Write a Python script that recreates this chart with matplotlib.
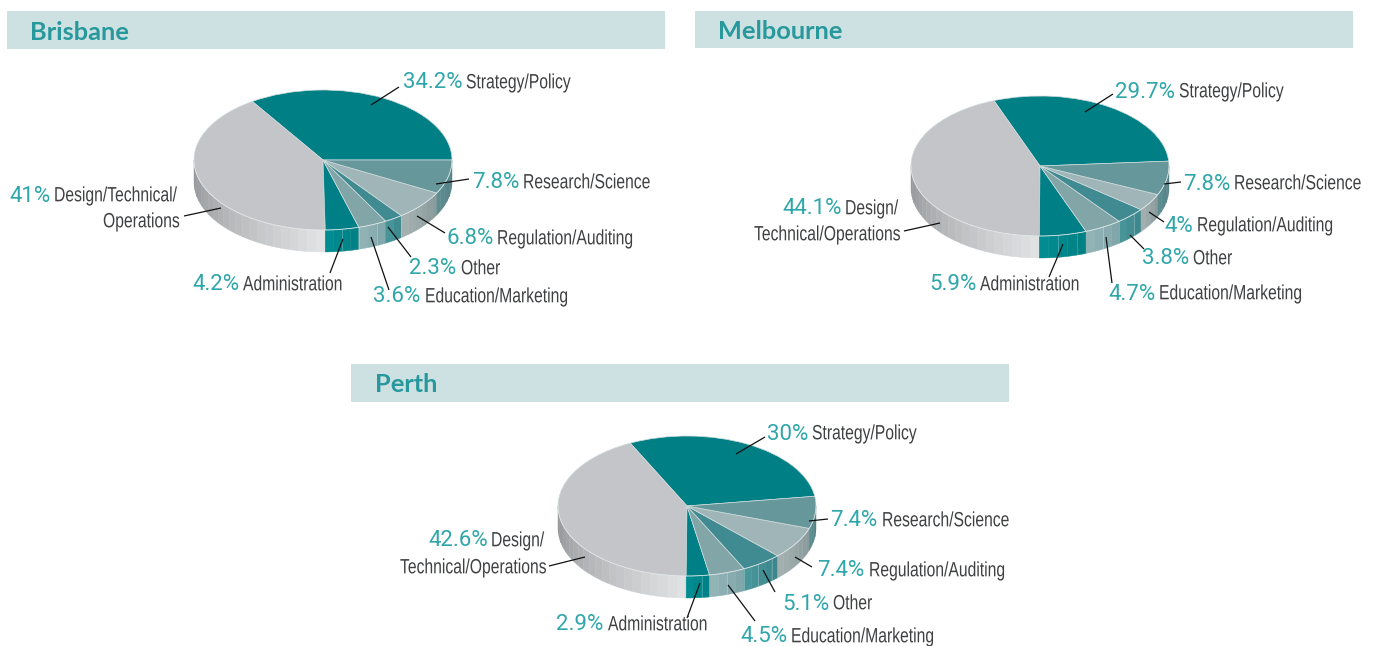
import numpy as np
import matplotlib
matplotlib.use('Agg')
import matplotlib.pyplot as plt
from matplotlib.colors import to_rgb
from matplotlib.patheffects import AbstractPathEffect
from matplotlib.transforms import Affine2D

W, H = 1379, 646

categories = ['Strategy/Policy', 'Design/Technical/Operations', 'Administration',
              'Education/Marketing', 'Other', 'Regulation/Auditing', 'Research/Science']
brisbane_values = [34.2, 41, 4.2, 3.6, 2.3, 6.8, 7.8]
melbourne_values = [29.7, 44.1, 5.9, 4.7, 3.8, 4, 7.8]
perth_values = [30, 42.6, 2.9, 4.5, 5.1, 7.4, 7.4]

top_colors = ['#007f84', '#c3c5c8', '#008086', '#82a5a8', '#408b91', '#a0b5b7', '#66979b']
# wall colours, left and right end of each slice
wall_colors = [('#007f84', '#007f84'), ('#8d8f92', '#e2e3e5'), ('#008e92', '#007f84'),
               ('#93b5b8', '#7fa5a8'), ('#4a979c', '#3a858b'), ('#a6b2b2', '#879999'),
               ('#5f8e92', '#4f7c80')]

TITLE_TEAL = '#27999c'
PCT_TEAL = '#2fa6aa'
GREY = '#3f4042'


class Tall(AbstractPathEffect):
    # the label type in the original is a condensed face, none is installed,
    # so set it small and stretch it upwards from the baseline
    def __init__(self, sy):
        self.sy = sy

    def draw_path(self, renderer, gc, tpath, affine, rgbFace=None):
        renderer.draw_path(gc, tpath, Affine2D().scale(1, self.sy) + affine, rgbFace)


NARROW = [Tall(1 / 0.76)]

fig = plt.figure(figsize=(W / 100, H / 100), dpi=100)
over = fig.add_axes([0, 0, 1, 1], zorder=5)
over.set_xlim(0, W)
over.set_ylim(H, 0)
over.axis('off')
over.patch.set_alpha(0)


def pie3d(values, cx, cy, start, rx=129, ry=70, depth=22):
    ax = fig.add_axes([(cx - rx) / W, 1 - (cy + ry) / H, 2 * rx / W, 2 * ry / H], zorder=2)
    ax.pie(values, colors=top_colors, startangle=start, radius=1, counterclock=True,
           wedgeprops={'linewidth': 0.5, 'edgecolor': '#cfdcdd'})
    ax.set_aspect('auto')
    ax.set_xlim(-1, 1)
    ax.set_ylim(-1, 1)
    d = depth / ry
    edges = start + np.cumsum([0] + list(values)) / sum(values) * 360
    for i in range(len(values)):
        a0, a1 = max(edges[i], 180), min(edges[i + 1], 360)
        if a1 <= a0:
            continue
        n = max(1, int(round((a1 - a0) / 4)))
        c0, c1 = np.array(to_rgb(wall_colors[i][0])), np.array(to_rgb(wall_colors[i][1]))
        steps = np.linspace(a0, a1, n + 1)
        for k in range(n):
            t = np.radians(np.linspace(steps[k], steps[k + 1], 6))
            xs = np.r_[np.cos(t), np.cos(t[::-1])]
            ys = np.r_[np.sin(t), np.sin(t[::-1]) - d]
            c = c0 + (c1 - c0) * (k + 0.5) / n
            ax.fill(xs, ys, color=c, lw=0.3, zorder=0.5, clip_on=False)
            if i in (2, 3, 4) and k % 2 == 1:
                x = np.cos(t[-1])
                y = np.sin(t[-1])
                ax.plot([x, x], [y, y - d], color='white', alpha=0.25, lw=0.6, zorder=0.6, clip_on=False)
    # light rim on the front edge
    t = np.radians(np.linspace(180, 360, 120))
    ax.plot(np.cos(t), np.sin(t), color='white', alpha=0.35, lw=0.7, zorder=3, clip_on=False)
    ax.axis('off')


def band(x0, y0, x1, y1, title, tx):
    over.fill_between([x0, x1], y0, y1, color='#cde1e3', lw=0, zorder=0)
    over.text(tx, (y0 + y1) / 2 + 2, title, fontfamily='Lato', fontweight='bold', fontsize=18.3,
              color=TITLE_TEAL, va='center', ha='left')


def narrow(x, y, text):
    over.text(x, y + 6.3, text, fontfamily='Liberation Sans', fontsize=11.3, color=GREY, va='baseline', ha='left',
              path_effects=NARROW)


def label(px, lx, y, pct, text):
    over.text(px, y + 1, pct, fontfamily='Roboto', fontsize=16, color=PCT_TEAL, va='center', ha='left')
    narrow(lx, y, text)


def leaders(segs):
    for (x0, y0, x1, y1) in segs:
        over.plot([x0, x1], [y0, y1], color='#111111', lw=0.9, solid_capstyle='butt')


def pct(v):
    return f'{v:g}%'


def text_rows(values, rows):
    # rows line up with categories: (pct x, label x, y)
    for i, r in enumerate(rows):
        if r:
            label(r[0], r[1], r[2], pct(values[i]), categories[i])


# Brisbane
band(7, 11, 665, 49, 'Brisbane', 30)
pie3d(brisbane_values, 323, 160, 0)
text_rows(brisbane_values, [(403, 466, 82), None, (192, 243, 284), (373, 425, 296), (409, 461, 268),
                            (446, 497, 238), (472, 523, 182)])
label(9, 54, 195, pct(brisbane_values[1]), 'Design/Technical/')
narrow(103, 221, 'Operations')
leaders([(371, 105, 399, 87), (436, 184, 469, 179), (417, 216, 445, 233), (388, 227, 411, 257),
         (371, 237, 389, 290), (343, 239, 330, 273), (221, 208, 184, 216)])

# Melbourne
band(695, 11, 1353, 48, 'Melbourne', 718)
pie3d(melbourne_values, 1040, 166, 4)
text_rows(melbourne_values, [(1115, 1179, 91), None, (929, 980, 284), (1108, 1159, 293), (1142, 1193, 258),
                             (1164, 1197, 225), (1183, 1234, 183)])
label(782, 845, 208, pct(melbourne_values[1]), 'Design/')
narrow(754, 234, 'Technical/Operations')
leaders([(1085, 112, 1113, 94), (1164, 184, 1181, 182), (1149, 212, 1164, 222), (1130, 235, 1144, 249),
         (1106, 237, 1112, 283), (1063, 244, 1049, 277), (940, 223, 904, 231)])

# Perth
band(351, 364, 1009, 402, 'Perth', 375)
pie3d(perth_values, 687, 506, 8)
text_rows(perth_values, [(767, 812, 433), None, (556, 608, 624), (740, 791, 636), (782, 833, 603),
                         (817, 869, 570), (830, 882, 520)])
label(428, 491, 540, pct(perth_values[1]), 'Design/')
narrow(400, 567, 'Technical/Operations')
leaders([(736, 454, 765, 437), (809, 521, 828, 519), (795, 557, 812, 567), (763, 570, 775, 592),
         (728, 585, 755, 621), (700, 583, 687, 618), (585, 557, 549, 566)])

fig.savefig('out.png', dpi=100)
